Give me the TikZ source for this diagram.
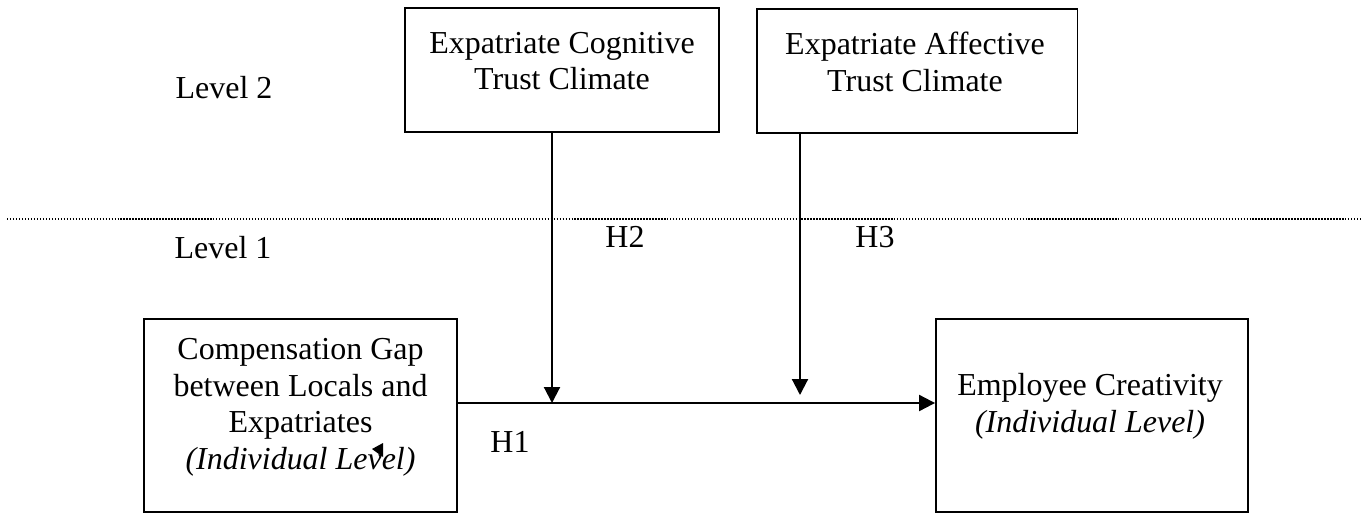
\documentclass[tikz,border=0pt]{standalone}
\usepackage{fontspec}
\setmainfont{Liberation Serif}
\usetikzlibrary{arrows.meta}

\tikzset{
    frame/.style={draw, line width=1.1pt, minimum width=6.27cm, inner sep=0pt},
    boxtext/.style={align=center, inner sep=0pt, font=\fontsize{18.2}{20.8}\selectfont},
    tag/.style={inner sep=0pt, font=\fontsize{18.2}{20.8}\selectfont},
    arr/.style={line width=1.2pt, -{Triangle[length=0.32cm,width=0.32cm]}}
}

\begin{document}
\begin{tikzpicture}[x=0.02cm, y=-0.02cm]

    \useasboundingbox (0,0) rectangle (1370,514);

    % ===== Level 2 boxes =====
    \node[frame, minimum height=2.48cm] (cog) at (562,70) {};
    \node[boxtext] (cogtext) at (562,61) {Expatriate Cognitive\\Trust Climate};
    \node[frame, minimum width=6.42cm, minimum height=2.48cm] (aff) at (917,71) {};
    \node[boxtext] (afftext) at (915,62) {Expatriate Affective\\Trust Climate};

    % ===== Level 1 boxes =====
    \node[frame, minimum height=3.86cm] (gap) at (300.5,415.5) {};
    \node[boxtext] (gaptext) at (300.5,407.5)
        {Compensation Gap\\between Locals and\\Expatriates\\\textit{(Individual Level)}};
    \node[frame, minimum width=6.24cm, minimum height=3.86cm] (crea) at (1092,415.5) {};
    \node[boxtext] (creatext) at (1090,406.5) {Employee Creativity\\\textit{(Individual Level)}};

    % ===== Level divider =====
    \draw[line width=0.8pt, dash pattern=on 0.8pt off 0.9pt] (7,219) -- (1362,219);
    \node[tag] (lvltwo) at (224,88) {Level 2};
    \node[tag] (lvlone) at (223,248) {Level 1};

    % ===== Paths =====
    \coordinate (mtwo) at (552,403);
    \coordinate (mthree) at (800,395);
    \draw[arr] (gap.east |- mtwo) -- (crea.west |- mtwo);
    \draw[arr] (cog.south -| mtwo) -- (mtwo);
    \draw[arr] (aff.south -| mthree) -- (mthree);

    \node[tag] (hone) at (510,442) {H1};
    \node[tag] (htwo) at (625,237) {H2};
    \node[tag] (hthree) at (875,237) {H3};

    % stray tip inside the left box
    \fill (372,449) -- (383,443) -- (383,457) -- cycle;

\end{tikzpicture}
\end{document}
